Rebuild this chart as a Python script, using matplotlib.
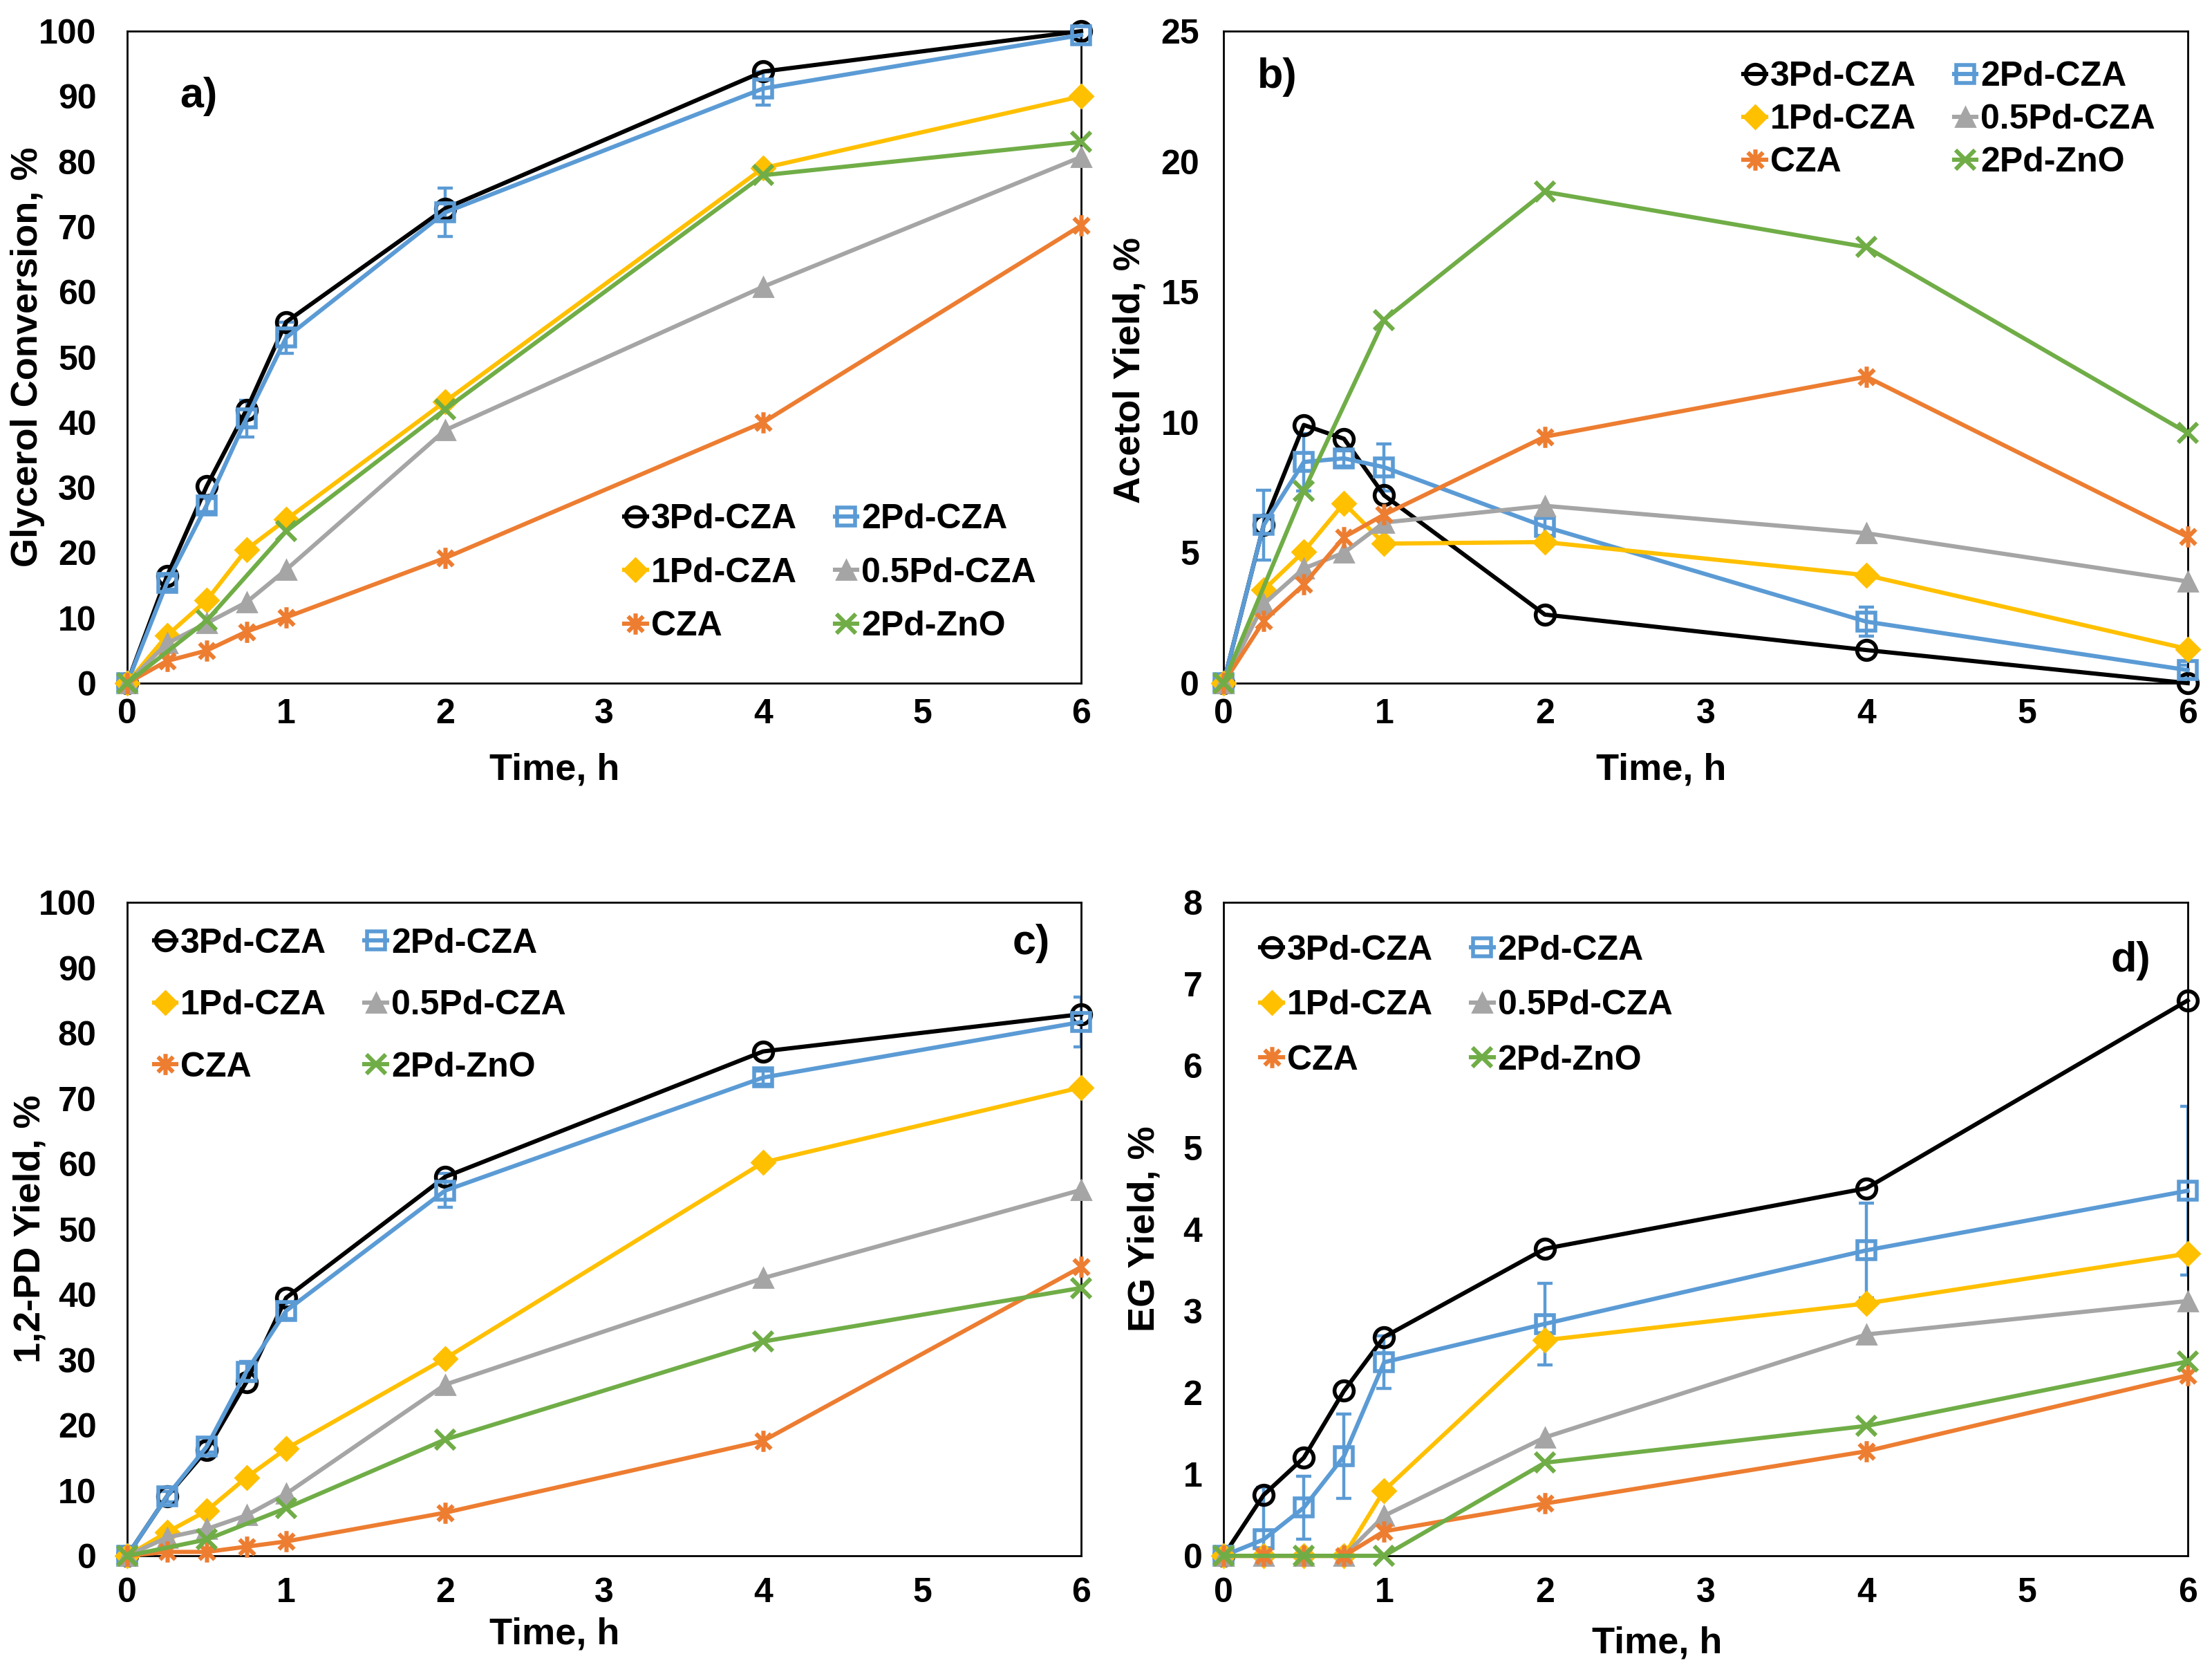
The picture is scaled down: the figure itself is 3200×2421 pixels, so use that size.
import matplotlib
matplotlib.use("Agg")
import matplotlib.pyplot as plt
from matplotlib.path import Path
import numpy as np

plt.rcParams['font.family'] = ['Liberation Sans', 'DejaVu Sans']
plt.rcParams['font.weight'] = 'bold'

# ---------------- data ----------------
time = [0, 0.25, 0.5, 0.75, 1, 2, 4, 6]
time_zno = [0, 0.5, 1, 2, 4, 6]
series_names = ["3Pd-CZA", "2Pd-CZA", "1Pd-CZA", "0.5Pd-CZA", "CZA", "2Pd-ZnO"]

# a) glycerol conversion
conv_3pd = [0, 16.4, 30.2, 41.9, 55.4, 72.8, 93.8, 100]
conv_2pd = [0, 15.4, 27.3, 40.6, 53.0, 72.2, 91.2, 99.4]
conv_2pd_err = [0, 1.0, 1.0, 2.8, 2.4, 3.7, 2.5, 0.7]
conv_1pd = [0, 7.3, 12.7, 20.5, 25.1, 43.2, 79.0, 90.0]
conv_05pd = [0, 6.1, 9.2, 12.4, 17.4, 38.8, 60.8, 80.7]
conv_cza = [0, 3.4, 5.0, 7.9, 10.1, 19.2, 40.0, 70.2]
conv_zno = [0, 9.6, 23.3, 42.0, 77.9, 83.0]

# b) acetol yield
acet_3pd = [0, 6.06, 9.9, 9.37, 7.2, 2.63, 1.27, 0]
acet_2pd = [0, 6.06, 8.48, 8.62, 8.28, 6.0, 2.36, 0.5]
acet_2pd_err = [0, 1.35, 1.1, 0.3, 0.9, 0.45, 0.55, 0.2]
acet_1pd = [0, 3.57, 5.05, 6.9, 5.35, 5.41, 4.14, 1.31]
acet_05pd = [0, 3.03, 4.4, 5.0, 6.16, 6.8, 5.75, 3.9]
acet_cza = [0, 2.38, 3.78, 5.6, 6.46, 9.45, 11.75, 5.61]
acet_zno = [0, 7.37, 13.93, 18.84, 16.72, 9.59]

# c) 1,2-PD yield
pd_3pd = [0, 9.1, 16.2, 26.6, 39.5, 58.0, 77.2, 82.9]
pd_2pd = [0, 9.1, 16.7, 28.2, 37.5, 55.9, 73.2, 81.7]
pd_2pd_err = [0, 0.8, 0.8, 1.5, 1.2, 2.6, 1.0, 3.8]
pd_1pd = [0, 3.6, 6.9, 12.0, 16.4, 30.2, 60.2, 71.7]
pd_05pd = [0, 2.8, 4.1, 6.2, 9.5, 26.2, 42.5, 56.0]
pd_cza = [0, 0.6, 0.6, 1.4, 2.2, 6.6, 17.6, 44.2]
pd_zno = [0, 2.5, 7.3, 17.8, 32.8, 41.0]

# d) EG yield
eg_3pd = [0, 0.745, 1.2, 2.02, 2.68, 3.76, 4.5, 6.8]
eg_2pd = [0, 0.2, 0.59, 1.22, 2.37, 2.84, 3.74, 4.47]
eg_2pd_err = [0, 0.64, 0.385, 0.52, 0.32, 0.5, 0.58, 1.03]
eg_1pd = [0, 0, 0, 0, 0.8, 2.64, 3.09, 3.7]
eg_05pd = [0, 0, 0, 0, 0.49, 1.45, 2.71, 3.12]
eg_cza = [0, 0, 0, 0, 0.3, 0.64, 1.28, 2.21]
eg_zno = [0, 0, 0, 1.14, 1.59, 2.38]

ylabels = ["Glycerol Conversion, %", "Acetol Yield, %", "1,2-PD Yield, %", "EG Yield, %"]
ylims = [(0, 100, 10), (0, 25, 5), (0, 100, 10), (0, 8, 1)]
panel_letters = ["a)", "b)", "c)", "d)"]

# ---------------- style ----------------
colors = ["#000000", "#5B9BD5", "#FFC000", "#A5A5A5", "#ED7D31", "#70AD47"]
star = Path([(0, -1), (0, 1), (-0.72, -0.72), (0.72, 0.72), (-0.72, 0.72), (0.72, -0.72)],
            [Path.MOVETO, Path.LINETO, Path.MOVETO, Path.LINETO, Path.MOVETO, Path.LINETO])
mstyles = [
    dict(marker='o', ms=10, mfc='none', mec=colors[0], mew=2.0),
    dict(marker='s', ms=9.5, mfc='none', mec=colors[1], mew=2.0),
    dict(marker='D', ms=8.5, mfc=colors[2], mec=colors[2], mew=1.0),
    dict(marker='^', ms=10, mfc=colors[3], mec=colors[3], mew=1.0),
    dict(marker=star, ms=11, mfc=colors[4], mec=colors[4], mew=2.2),
    dict(marker='x', ms=10, mfc=colors[5], mec=colors[5], mew=2.2),
]

TICK_FS = 18
LEG_FS = 18
LAB_FS = 19.5
LET_FS = 22

fig = plt.figure(figsize=(16, 12.105), dpi=200)
positions = [
    [0.0575, 0.5919, 0.43125, 0.3895],
    [0.5531, 0.5919, 0.4359, 0.3895],
    [0.0575, 0.0706, 0.43125, 0.3903],
    [0.5531, 0.0706, 0.4359, 0.3903],
]

panels = [
    (conv_3pd, conv_2pd, conv_2pd_err, conv_1pd, conv_05pd, conv_cza, conv_zno),
    (acet_3pd, acet_2pd, acet_2pd_err, acet_1pd, acet_05pd, acet_cza, acet_zno),
    (pd_3pd, pd_2pd, pd_2pd_err, pd_1pd, pd_05pd, pd_cza, pd_zno),
    (eg_3pd, eg_2pd, eg_2pd_err, eg_1pd, eg_05pd, eg_cza, eg_zno),
]

legend_centers = [(0.737, 0.169), (0.753, 0.864), (0.244, 0.842), (0.252, 0.842)]
legend_spacing = [0.63, 0.32, 0.87, 0.67]
letter_pos = [(0.075, 0.90), (0.056, 0.929), (0.948, 0.937), (0.941, 0.911)]
ylabel_x = [-0.086, -0.079, -0.084, -0.064]
ylabel_y = [0.5, 0.48, 0.5, 0.5]
xlabel_pos = [(0.448, -0.107), (0.454, -0.107), (0.448, -0.094), (0.45, -0.107)]
ytick_pad = [16, 12.5, 16, 11]
xtick_pad = [8, 8, 11, 11]

for i, (pos, data) in enumerate(zip(positions, panels)):
    ax = fig.add_axes(pos)
    s3, s2, s2e, s1, s05, scza, szno = data
    ax.errorbar(time, s2, yerr=s2e, fmt='none', ecolor=colors[1], elinewidth=1.6,
                capsize=4, capthick=1.6, zorder=2)
    ys = [s3, s2, s1, s05, scza]
    handles = []
    for k, y in enumerate(ys):
        h, = ax.plot(time, y, color=colors[k], lw=2.2, label=series_names[k],
                     clip_on=False, zorder=3 + k, **mstyles[k])
        handles.append(h)
    h, = ax.plot(time_zno, szno, color=colors[5], lw=2.2, label=series_names[5],
                 clip_on=False, zorder=9, **mstyles[5])
    handles.append(h)

    lo, hi, step = ylims[i]
    ax.set_xlim(0, 6)
    ax.set_ylim(lo, hi)
    ax.set_xticks(range(0, 7))
    ax.set_yticks(np.arange(lo, hi + step / 2, step))
    ax.tick_params(axis='both', length=0, labelsize=TICK_FS)
    ax.tick_params(axis='y', pad=ytick_pad[i])
    ax.tick_params(axis='x', pad=xtick_pad[i])
    for lab in ax.get_xticklabels() + ax.get_yticklabels():
        lab.set_fontweight('bold')
    for sp in ax.spines.values():
        sp.set_linewidth(1.0)
        sp.set_color('black')

    ax.set_xlabel("Time, h", fontsize=LAB_FS, fontweight='bold')
    ax.xaxis.set_label_coords(*xlabel_pos[i])
    ax.set_ylabel(ylabels[i], fontsize=LAB_FS, fontweight='bold')
    ax.yaxis.set_label_coords(ylabel_x[i], ylabel_y[i])

    ax.text(letter_pos[i][0], letter_pos[i][1], panel_letters[i], transform=ax.transAxes,
            fontsize=LET_FS, fontweight='bold', ha='center', va='center')

    order = [0, 2, 4, 1, 3, 5]
    ax.legend([handles[j] for j in order], [series_names[j] for j in order],
              ncol=2, loc='center', bbox_to_anchor=legend_centers[i],
              frameon=False, handlelength=0.65, handletextpad=0.12,
              columnspacing=1.1, labelspacing=legend_spacing[i], borderpad=0,
              prop={'weight': 'bold', 'size': LEG_FS})

fig.savefig("out.png", dpi=200)
